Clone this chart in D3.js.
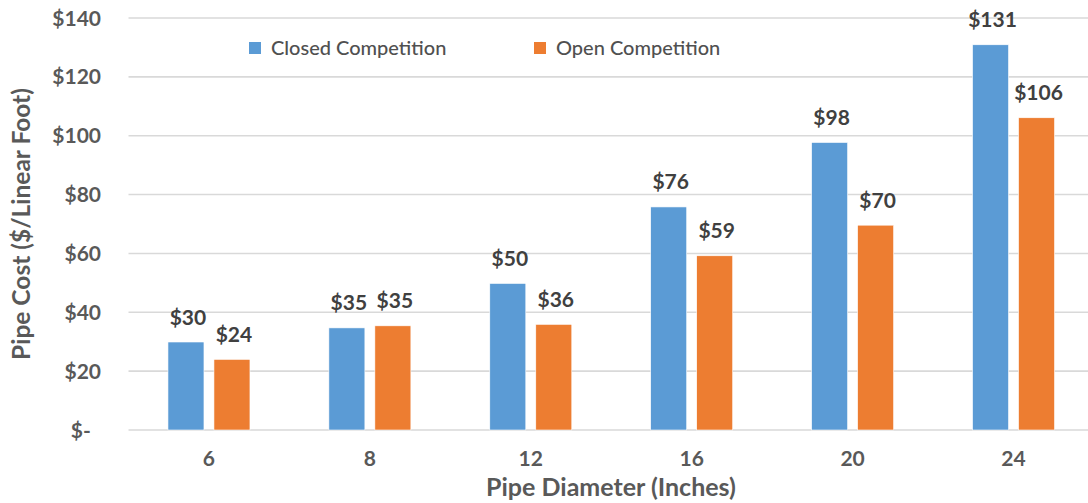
<!DOCTYPE html>
<html><head><meta charset="utf-8">
<script src="https://cdn.jsdelivr.net/npm/d3@7"></script>
<style>body{margin:0;background:#fff}svg{display:block}text{font-family:Lato,"Open Sans",sans-serif}</style>
</head><body>
<svg id="c" width="1088" height="503"></svg>
<script>
const categories = ["6", "8", "12", "16", "20", "24"];
const seriesNames = ["Closed Competition", "Open Competition"];
const closedValues = [29.9, 34.7, 49.8, 75.8, 97.7, 130.9];
const openValues = [24.0, 35.4, 35.9, 59.2, 69.6, 106.1];
const yTicks = [0, 20, 40, 60, 80, 100, 120, 140];
const yTickLabels = ["$-", "$20", "$40", "$60", "$80", "$100", "$120", "$140"];
const colors = ["#5B9BD5", "#ED7D31"];

const svg = d3.select("#c");
const x = d3.scaleBand().domain(categories).range([128.5, 1094]).padding(0);
const xs = d3.scaleBand().domain(seriesNames).range([0, x.bandwidth()]).paddingInner(0.217).paddingOuter(0.858);
const y = d3.scaleLinear().domain([0, 140]).range([430, 18]);

// gridlines
svg.append("g").selectAll("line").data(yTicks).join("line")
  .attr("x1", 128.5).attr("x2", 1094)
  .attr("y1", d => y(d)).attr("y2", d => y(d))
  .attr("stroke", "#D9D9D9").attr("stroke-width", 1.6);

// y tick labels
svg.append("g").selectAll("text").data(yTicks).join("text")
  .attr("x", 101).attr("y", d => y(d) + 7.5)
  .attr("text-anchor", "end")
  .attr("font-size", 21).attr("font-weight", 700).attr("fill", "#595959")
  .text((d, i) => yTickLabels[i] === "$-" ? "$-\u00A0\u00A0" : yTickLabels[i]);

// x tick labels
svg.append("g").selectAll("text").data(categories).join("text")
  .attr("x", d => x(d) + x.bandwidth() / 2).attr("y", 466)
  .attr("text-anchor", "middle")
  .attr("font-size", 21).attr("font-weight", 700).attr("fill", "#595959")
  .text(d => d);

const data = [];
categories.forEach((c, i) => {
  data.push({cat: c, s: seriesNames[0], v: closedValues[i], col: colors[0]});
  data.push({cat: c, s: seriesNames[1], v: openValues[i], col: colors[1]});
});

svg.append("g").selectAll("rect").data(data).join("rect")
  .attr("x", d => x(d.cat) + xs(d.s)).attr("width", xs.bandwidth())
  .attr("y", d => y(d.v)).attr("height", d => y(0) - y(d.v))
  .attr("fill", d => d.col).attr("stroke", "#fff").attr("stroke-width", 0.6);

svg.append("g").selectAll("text").data(data).join("text")
  .attr("x", d => x(d.cat) + xs(d.s) + xs.bandwidth() / 2 + 2)
  .attr("y", d => y(d.v) - 17.5)
  .attr("text-anchor", "middle")
  .attr("font-size", 21).attr("font-weight", 700).attr("fill", "#404040")
  .text(d => "$" + Math.round(d.v));

// legend
const legX = [249, 534];
seriesNames.forEach((n, i) => {
  svg.append("rect").attr("x", legX[i]).attr("y", 42).attr("width", 12).attr("height", 12).attr("fill", colors[i]);
  svg.append("text").attr("x", legX[i] + 22).attr("y", 55)
    .attr("font-size", 20).attr("font-weight", 500).attr("fill", "#505050").text(n);
});

// axis titles
svg.append("text").attr("x", 611).attr("y", 496).attr("text-anchor", "middle")
  .attr("font-size", 25).attr("font-weight", 700).attr("fill", "#595959")
  .text("Pipe Diameter (Inches)");
svg.append("text").attr("transform", "translate(30,224) rotate(-90)").attr("text-anchor", "middle")
  .attr("font-size", 24.5).attr("font-weight", 700).attr("fill", "#595959")
  .text("Pipe Cost ($/Linear Foot)");
</script>
</body></html>
